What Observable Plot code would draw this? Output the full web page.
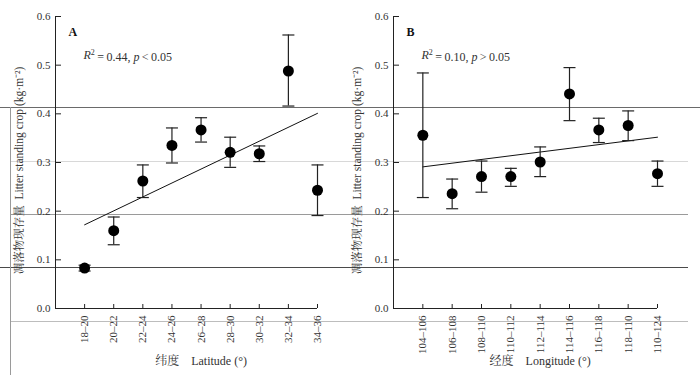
<!DOCTYPE html>
<html><head><meta charset="utf-8">
<script src="https://cdn.jsdelivr.net/npm/d3@7"></script>
<script src="https://cdn.jsdelivr.net/npm/@observablehq/plot@0.6"></script>
<style>
body{margin:0;background:#fff;}
#wrap{position:relative;width:700px;height:382px;overflow:hidden;}
#panels{position:absolute;left:0;top:0;display:flex;z-index:1;}
.art{position:absolute;height:1px;z-index:0;}
.artv{position:absolute;width:1px;z-index:0;}
</style></head><body>
<div id="wrap">
  <div class="art" style="top:107px;left:0;width:700px;background:#6a6a6a"></div>
  <div class="art" style="top:161px;left:10px;width:678px;background:#d8d8d8"></div>
  <div class="art" style="top:214px;left:10px;width:678px;background:#9a9a9a"></div>
  <div class="art" style="top:267px;left:0;width:688px;background:#4a4a4a"></div>
  <div class="art" style="top:321px;left:10px;width:678px;background:#bdbdbd"></div>
  <div class="artv" style="left:10px;top:107px;height:268px;background:#9a9a9a"></div>
  <div id="panels"></div>
</div>
<script>
// ---- Panel A: latitude ----
const latCats = ["18–20","20–22","22–24","24–26","26–28","28–30","30–32","32–34","34–36"];
const latMean = [0.083, 0.160, 0.262, 0.335, 0.367, 0.321, 0.318, 0.488, 0.243];
const latLow  = [0.077, 0.131, 0.228, 0.299, 0.342, 0.290, 0.302, 0.416, 0.191];
const latHigh = [0.089, 0.188, 0.295, 0.371, 0.392, 0.352, 0.334, 0.562, 0.295];
const latFit  = [0.172, 0.401];           // fitted line at first and last class
const latStat = ["0.44", "<", "0.05"];    // R², relation, p

// ---- Panel B: longitude ----
const lonCats = ["104–106","106–108","108–110","110–112","112–114","114–116","116–118","118–110","110–124"];
const lonMean = [0.356, 0.236, 0.271, 0.271, 0.301, 0.441, 0.367, 0.376, 0.277];
const lonLow  = [0.228, 0.205, 0.239, 0.251, 0.271, 0.386, 0.341, 0.345, 0.251];
const lonHigh = [0.484, 0.266, 0.303, 0.288, 0.332, 0.495, 0.391, 0.406, 0.303];
const lonFit  = [0.291, 0.352];
const lonStat = ["0.10", ">", "0.05"];

const yTicks = [0, 0.1, 0.2, 0.3, 0.4, 0.5, 0.6];
const yTitle = "凋落物现存量  Litter standing crop (kg·m⁻²)";

const FONT = "'Liberation Serif','Times New Roman','Noto Serif CJK SC','Noto Sans CJK SC',serif";
const INK = "#222";

const capSymbol = {draw(ctx, size) {const w = Math.sqrt(size / Math.PI); ctx.moveTo(-w, 0); ctx.lineTo(w, 0);}};

function panel({cats, mean, low, high, fit, letter, stat, xTitle, width, marginLeft, marginRight}) {
  const n = cats.length;
  const rows = cats.map((c, i) => ({pos: i + 1, cat: c, mean: mean[i], low: low[i], high: high[i]}));
  const fitRows = [{pos: 1, y: fit[0]}, {pos: n, y: fit[1]}];
  const statPlain = "R2 = " + stat[0] + ", p " + stat[1] + " " + stat[2];
  const svg = Plot.plot({
    width, height: 382, marginLeft, marginRight, marginTop: 16, marginBottom: 74,
    style: {fontFamily: FONT, fontSize: "11px", color: "#333", background: "transparent", overflow: "visible"},
    x: {domain: [0, n]},
    y: {domain: [0, 0.6]},
    marks: [
      Plot.ruleY([0], {stroke: INK}),
      Plot.ruleX([0], {stroke: INK}),
      Plot.axisX({ticks: rows.map(d => d.pos), tickFormat: p => cats[p - 1], tickSize: -4, tickPadding: 11,
                  tickRotate: -90, textAnchor: "end", label: null, stroke: INK, fill: "#333"}),
      Plot.axisY({ticks: yTicks, tickFormat: d3.format(".1f"), tickSize: -6, tickPadding: 11,
                  label: null, stroke: INK, fill: "#333"}),
      Plot.text([yTitle], {frameAnchor: "left", dx: -36, dy: 8, rotate: -90, fontSize: 11.5,
                           textAnchor: "middle", lineAnchor: "middle", fill: "#333"}),
      Plot.text([xTitle], {x: (1 + n) / 2, frameAnchor: "bottom", dy: 56, fontSize: 12, fill: "#333"}),
      Plot.text([letter], {frameAnchor: "top-left", dx: 13, dy: 11, fontWeight: "bold", fontSize: 12,
                           textAnchor: "start", fill: "#111"}),
      Plot.text([statPlain], {frameAnchor: "top-left", dx: 28, dy: 34, fontSize: 12,
                           textAnchor: "start", fill: "#333"}),
      Plot.line(fitRows, {x: "pos", y: "y", stroke: "#111", strokeWidth: 1}),
      Plot.ruleX(rows, {x: "pos", y1: "low", y2: "high", stroke: INK, strokeWidth: 1.2}),
      Plot.dot(rows, {x: "pos", y: "low", symbol: capSymbol, r: 6, stroke: INK, strokeWidth: 1.2}),
      Plot.dot(rows, {x: "pos", y: "high", symbol: capSymbol, r: 6, stroke: INK, strokeWidth: 1.2}),
      Plot.dot(rows, {x: "pos", y: "mean", r: 5.5, fill: "#000", stroke: "none"})
    ]
  });
  // rich text for the statistic: italic R and p, superscript 2
  const t = d3.select(svg).selectAll("text").filter(function () { return this.textContent === statPlain; });
  t.text(null);
  t.append("tspan").attr("font-style", "italic").text("R");
  t.append("tspan").attr("font-size", "8").attr("dy", "-0.45em").text("2");
  t.append("tspan").attr("dy", "0.45em").text("\u2009=\u2009" + stat[0] + ", ");
  t.append("tspan").attr("font-style", "italic").text("p");
  t.append("tspan").text("\u2009" + stat[1] + "\u2009" + stat[2]);
  return svg;
}

const host = document.getElementById("panels");
host.append(panel({cats: latCats, mean: latMean, low: latLow, high: latHigh, fit: latFit, letter: "A",
  stat: latStat, xTitle: "纬度    Latitude (°)", width: 350, marginLeft: 55, marginRight: 33}));
host.append(panel({cats: lonCats, mean: lonMean, low: lonLow, high: lonHigh, fit: lonFit, letter: "B",
  stat: lonStat, xTitle: "经度    Longitude (°)", width: 350, marginLeft: 43, marginRight: 43}));
</script>
</body></html>
